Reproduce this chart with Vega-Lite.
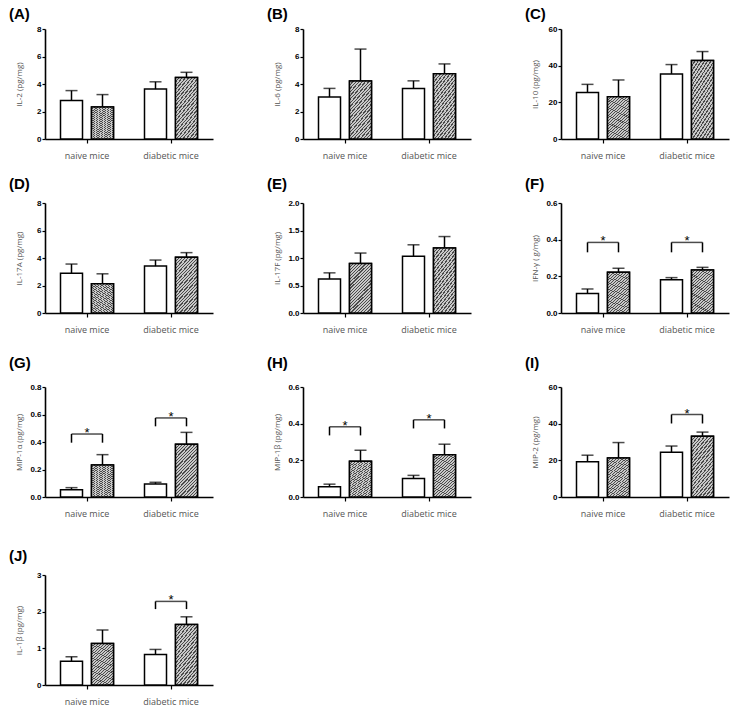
{
"$schema": "https://vega.github.io/schema/vega-lite/v6.json",
"padding": {"left": 9, "top": 7, "right": 5, "bottom": 2},
"background": "white",
"datasets": {
 "bars": [
  {"panel":"A","group":"naive mice","treatment":"control","mean":2.80,"hi":3.52},
  {"panel":"A","group":"naive mice","treatment":"treated","mean":2.33,"hi":3.23},
  {"panel":"A","group":"diabetic mice","treatment":"control","mean":3.63,"hi":4.16},
  {"panel":"A","group":"diabetic mice","treatment":"treated","mean":4.47,"hi":4.85},
  {"panel":"B","group":"naive mice","treatment":"control","mean":3.05,"hi":3.68},
  {"panel":"B","group":"naive mice","treatment":"treated","mean":4.21,"hi":6.54},
  {"panel":"B","group":"diabetic mice","treatment":"control","mean":3.68,"hi":4.23},
  {"panel":"B","group":"diabetic mice","treatment":"treated","mean":4.74,"hi":5.46},
  {"panel":"C","group":"naive mice","treatment":"control","mean":25.4,"hi":29.8},
  {"panel":"C","group":"naive mice","treatment":"treated","mean":23.0,"hi":32.2},
  {"panel":"C","group":"diabetic mice","treatment":"control","mean":35.5,"hi":40.6},
  {"panel":"C","group":"diabetic mice","treatment":"treated","mean":42.8,"hi":47.7},
  {"panel":"D","group":"naive mice","treatment":"control","mean":2.90,"hi":3.56},
  {"panel":"D","group":"naive mice","treatment":"treated","mean":2.12,"hi":2.85},
  {"panel":"D","group":"diabetic mice","treatment":"control","mean":3.41,"hi":3.85},
  {"panel":"D","group":"diabetic mice","treatment":"treated","mean":4.05,"hi":4.39},
  {"panel":"E","group":"naive mice","treatment":"control","mean":0.62,"hi":0.73},
  {"panel":"E","group":"naive mice","treatment":"treated","mean":0.90,"hi":1.09},
  {"panel":"E","group":"diabetic mice","treatment":"control","mean":1.03,"hi":1.24},
  {"panel":"E","group":"diabetic mice","treatment":"treated","mean":1.18,"hi":1.39},
  {"panel":"F","group":"naive mice","treatment":"control","mean":0.107,"hi":0.131},
  {"panel":"F","group":"naive mice","treatment":"treated","mean":0.222,"hi":0.244},
  {"panel":"F","group":"diabetic mice","treatment":"control","mean":0.182,"hi":0.193},
  {"panel":"F","group":"diabetic mice","treatment":"treated","mean":0.235,"hi":0.249},
  {"panel":"G","group":"naive mice","treatment":"control","mean":0.053,"hi":0.068},
  {"panel":"G","group":"naive mice","treatment":"treated","mean":0.233,"hi":0.308},
  {"panel":"G","group":"diabetic mice","treatment":"control","mean":0.095,"hi":0.107},
  {"panel":"G","group":"diabetic mice","treatment":"treated","mean":0.383,"hi":0.470},
  {"panel":"H","group":"naive mice","treatment":"control","mean":0.056,"hi":0.070},
  {"panel":"H","group":"naive mice","treatment":"treated","mean":0.195,"hi":0.255},
  {"panel":"H","group":"diabetic mice","treatment":"control","mean":0.101,"hi":0.118},
  {"panel":"H","group":"diabetic mice","treatment":"treated","mean":0.231,"hi":0.288},
  {"panel":"I","group":"naive mice","treatment":"control","mean":19.2,"hi":22.8},
  {"panel":"I","group":"naive mice","treatment":"treated","mean":21.3,"hi":29.7},
  {"panel":"I","group":"diabetic mice","treatment":"control","mean":24.4,"hi":27.8},
  {"panel":"I","group":"diabetic mice","treatment":"treated","mean":33.1,"hi":35.4},
  {"panel":"J","group":"naive mice","treatment":"control","mean":0.65,"hi":0.77},
  {"panel":"J","group":"naive mice","treatment":"treated","mean":1.13,"hi":1.50},
  {"panel":"J","group":"diabetic mice","treatment":"control","mean":0.83,"hi":0.97},
  {"panel":"J","group":"diabetic mice","treatment":"treated","mean":1.65,"hi":1.86}
 ],
 "sig": [
  {"panel":"F","group":"naive mice","level":0.385,"low":0.331},
  {"panel":"F","group":"diabetic mice","level":0.385,"low":0.331},
  {"panel":"G","group":"naive mice","level":0.458,"low":0.395},
  {"panel":"G","group":"diabetic mice","level":0.575,"low":0.514},
  {"panel":"H","group":"naive mice","level":0.383,"low":0.336},
  {"panel":"H","group":"diabetic mice","level":0.421,"low":0.374},
  {"panel":"I","group":"diabetic mice","level":45.0,"low":40.1},
  {"panel":"J","group":"diabetic mice","level":2.28,"low":2.07}
 ]
},
"columns": 3,
"spacing": {"column": 54, "row": 17},
"concat": [
 {"title": {"text": "(A)", "offset": 3}, "width": 168, "height": 110,
  "encoding": {"x": {"field":"group","type":"nominal","sort":["naive mice","diabetic mice"],"title":null,"scale":{"paddingInner":0,"paddingOuter":0},"axis":{"minExtent":17,"maxExtent":17}}},
  "layer": [
   {"data":{"name":"bars"},"transform":[{"filter":"datum.panel=='A'"}],
    "encoding":{"xOffset":{"field":"treatment","type":"nominal","sort":["control","treated"],"scale":{"paddingInner":0.29,"paddingOuter":0.5}},"y":{"field":"mean","type":"quantitative","title":"IL-2 (pg/mg)","scale":{"domain":[0,8]},"axis":{"values":[0,2,4,6,8]}}},
    "layer":[
     {"mark":{"type":"bar","fill":"white","stroke":"black","strokeWidth":1.5}},
     {"transform":[{"filter":"datum.treatment=='treated'"}],"mark":{"type":"bar","stroke":"black","strokeWidth":1.5}},
     {"mark":{"type":"rule","color":"black","strokeWidth":1.5},"encoding":{"y2":{"field":"hi"}}},
     {"mark":{"type":"tick","orient":"horizontal","size":12,"thickness":1.5,"color":"black"},"encoding":{"y":{"field":"hi","type":"quantitative","title":"IL-2 (pg/mg)","axis":{"values":[0,2,4,6,8]}}}}
    ]}
  ]},
 {"title": {"text": "(B)", "offset": 3}, "width": 168, "height": 110,
  "encoding": {"x": {"field":"group","type":"nominal","sort":["naive mice","diabetic mice"],"title":null,"scale":{"paddingInner":0,"paddingOuter":0},"axis":{"minExtent":17,"maxExtent":17}}},
  "layer": [
   {"data":{"name":"bars"},"transform":[{"filter":"datum.panel=='B'"}],
    "encoding":{"xOffset":{"field":"treatment","type":"nominal","sort":["control","treated"],"scale":{"paddingInner":0.29,"paddingOuter":0.5}},"y":{"field":"mean","type":"quantitative","title":"IL-6 (pg/mg)","scale":{"domain":[0,8]},"axis":{"values":[0,2,4,6,8]}}},
    "layer":[
     {"mark":{"type":"bar","fill":"white","stroke":"black","strokeWidth":1.5}},
     {"transform":[{"filter":"datum.treatment=='treated'"}],"mark":{"type":"bar","stroke":"black","strokeWidth":1.5}},
     {"mark":{"type":"rule","color":"black","strokeWidth":1.5},"encoding":{"y2":{"field":"hi"}}},
     {"mark":{"type":"tick","orient":"horizontal","size":12,"thickness":1.5,"color":"black"},"encoding":{"y":{"field":"hi","type":"quantitative","title":"IL-6 (pg/mg)","axis":{"values":[0,2,4,6,8]}}}}
    ]}
  ]},
 {"title": {"text": "(C)", "offset": 3}, "width": 168, "height": 110,
  "encoding": {"x": {"field":"group","type":"nominal","sort":["naive mice","diabetic mice"],"title":null,"scale":{"paddingInner":0,"paddingOuter":0},"axis":{"minExtent":17,"maxExtent":17}}},
  "layer": [
   {"data":{"name":"bars"},"transform":[{"filter":"datum.panel=='C'"}],
    "encoding":{"xOffset":{"field":"treatment","type":"nominal","sort":["control","treated"],"scale":{"paddingInner":0.29,"paddingOuter":0.5}},"y":{"field":"mean","type":"quantitative","title":"IL-10 (pg/mg)","scale":{"domain":[0,60]},"axis":{"values":[0,20,40,60]}}},
    "layer":[
     {"mark":{"type":"bar","fill":"white","stroke":"black","strokeWidth":1.5}},
     {"transform":[{"filter":"datum.treatment=='treated'"}],"mark":{"type":"bar","stroke":"black","strokeWidth":1.5}},
     {"mark":{"type":"rule","color":"black","strokeWidth":1.5},"encoding":{"y2":{"field":"hi"}}},
     {"mark":{"type":"tick","orient":"horizontal","size":12,"thickness":1.5,"color":"black"},"encoding":{"y":{"field":"hi","type":"quantitative","title":"IL-10 (pg/mg)","axis":{"values":[0,20,40,60]}}}}
    ]}
  ]},
 {"title": {"text": "(D)", "offset": 7}, "width": 168, "height": 110,
  "encoding": {"x": {"field":"group","type":"nominal","sort":["naive mice","diabetic mice"],"title":null,"scale":{"paddingInner":0,"paddingOuter":0},"axis":{"minExtent":26,"maxExtent":26}}},
  "layer": [
   {"data":{"name":"bars"},"transform":[{"filter":"datum.panel=='D'"}],
    "encoding":{"xOffset":{"field":"treatment","type":"nominal","sort":["control","treated"],"scale":{"paddingInner":0.29,"paddingOuter":0.5}},"y":{"field":"mean","type":"quantitative","title":"IL-17A (pg/mg)","scale":{"domain":[0,8]},"axis":{"values":[0,2,4,6,8]}}},
    "layer":[
     {"mark":{"type":"bar","fill":"white","stroke":"black","strokeWidth":1.5}},
     {"transform":[{"filter":"datum.treatment=='treated'"}],"mark":{"type":"bar","stroke":"black","strokeWidth":1.5}},
     {"mark":{"type":"rule","color":"black","strokeWidth":1.5},"encoding":{"y2":{"field":"hi"}}},
     {"mark":{"type":"tick","orient":"horizontal","size":12,"thickness":1.5,"color":"black"},"encoding":{"y":{"field":"hi","type":"quantitative","title":"IL-17A (pg/mg)","axis":{"values":[0,2,4,6,8]}}}}
    ]}
  ]},
 {"title": {"text": "(E)", "offset": 7}, "width": 168, "height": 110,
  "encoding": {"x": {"field":"group","type":"nominal","sort":["naive mice","diabetic mice"],"title":null,"scale":{"paddingInner":0,"paddingOuter":0},"axis":{"minExtent":26,"maxExtent":26}}},
  "layer": [
   {"data":{"name":"bars"},"transform":[{"filter":"datum.panel=='E'"}],
    "encoding":{"xOffset":{"field":"treatment","type":"nominal","sort":["control","treated"],"scale":{"paddingInner":0.29,"paddingOuter":0.5}},"y":{"field":"mean","type":"quantitative","title":"IL-17F (pg/mg)","scale":{"domain":[0,2]},"axis":{"values":[0,0.5,1,1.5,2],"format":".1f"}}},
    "layer":[
     {"mark":{"type":"bar","fill":"white","stroke":"black","strokeWidth":1.5}},
     {"transform":[{"filter":"datum.treatment=='treated'"}],"mark":{"type":"bar","stroke":"black","strokeWidth":1.5}},
     {"mark":{"type":"rule","color":"black","strokeWidth":1.5},"encoding":{"y2":{"field":"hi"}}},
     {"mark":{"type":"tick","orient":"horizontal","size":12,"thickness":1.5,"color":"black"},"encoding":{"y":{"field":"hi","type":"quantitative","title":"IL-17F (pg/mg)","axis":{"values":[0,0.5,1,1.5,2],"format":".1f"}}}}
    ]}
  ]},
 {"title": {"text": "(F)", "offset": 7}, "width": 168, "height": 110,
  "encoding": {"x": {"field":"group","type":"nominal","sort":["naive mice","diabetic mice"],"title":null,"scale":{"paddingInner":0,"paddingOuter":0},"axis":{"minExtent":26,"maxExtent":26}}},
  "layer": [
   {"data":{"name":"bars"},"transform":[{"filter":"datum.panel=='F'"}],
    "encoding":{"xOffset":{"field":"treatment","type":"nominal","sort":["control","treated"],"scale":{"paddingInner":0.29,"paddingOuter":0.5}},"y":{"field":"mean","type":"quantitative","title":"IFN-γ  (  g/mg)","scale":{"domain":[0,0.6]},"axis":{"values":[0,0.2,0.4,0.6],"format":".1f"}}},
    "layer":[
     {"mark":{"type":"bar","fill":"white","stroke":"black","strokeWidth":1.5}},
     {"transform":[{"filter":"datum.treatment=='treated'"}],"mark":{"type":"bar","stroke":"black","strokeWidth":1.5}},
     {"mark":{"type":"rule","color":"black","strokeWidth":1.5},"encoding":{"y2":{"field":"hi"}}},
     {"mark":{"type":"tick","orient":"horizontal","size":12,"thickness":1.5,"color":"black"},"encoding":{"y":{"field":"hi","type":"quantitative","title":"IFN-γ  (  g/mg)","axis":{"values":[0,0.2,0.4,0.6],"format":".1f"}}}}
    ]},
   {"data":{"name":"sig"},"transform":[{"filter":"datum.panel=='F'"}],
    "encoding":{"y":{"field":"level","type":"quantitative","title":"IFN-γ  (  g/mg)","axis":{"values":[0,0.2,0.4,0.6],"format":".1f"}}},
    "layer":[
     {"mark":{"type":"tick","orient":"horizontal","size":31,"thickness":1.5,"color":"black"}},
     {"mark":{"type":"rule","color":"black","strokeWidth":1.5},"encoding":{"xOffset":{"datum":"control"},"y2":{"field":"low"}}},
     {"mark":{"type":"rule","color":"black","strokeWidth":1.5},"encoding":{"xOffset":{"datum":"treated"},"y2":{"field":"low"}}},
     {"mark":{"type":"text","text":"*","dy":3,"baseline":"alphabetic","fontSize":13,"color":"black"}}
    ]}
  ]},
 {"title": {"text": "(G)", "offset": 12}, "width": 168, "height": 110,
  "encoding": {"x": {"field":"group","type":"nominal","sort":["naive mice","diabetic mice"],"title":null,"scale":{"paddingInner":0,"paddingOuter":0},"axis":{"minExtent":35,"maxExtent":35}}},
  "layer": [
   {"data":{"name":"bars"},"transform":[{"filter":"datum.panel=='G'"}],
    "encoding":{"xOffset":{"field":"treatment","type":"nominal","sort":["control","treated"],"scale":{"paddingInner":0.29,"paddingOuter":0.5}},"y":{"field":"mean","type":"quantitative","title":"MIP-1α  (pg/mg)","scale":{"domain":[0,0.8]},"axis":{"values":[0,0.2,0.4,0.6,0.8],"format":".1f"}}},
    "layer":[
     {"mark":{"type":"bar","fill":"white","stroke":"black","strokeWidth":1.5}},
     {"transform":[{"filter":"datum.treatment=='treated'"}],"mark":{"type":"bar","stroke":"black","strokeWidth":1.5}},
     {"mark":{"type":"rule","color":"black","strokeWidth":1.5},"encoding":{"y2":{"field":"hi"}}},
     {"mark":{"type":"tick","orient":"horizontal","size":12,"thickness":1.5,"color":"black"},"encoding":{"y":{"field":"hi","type":"quantitative","title":"MIP-1α  (pg/mg)","axis":{"values":[0,0.2,0.4,0.6,0.8],"format":".1f"}}}}
    ]},
   {"data":{"name":"sig"},"transform":[{"filter":"datum.panel=='G'"}],
    "encoding":{"y":{"field":"level","type":"quantitative","title":"MIP-1α  (pg/mg)","axis":{"values":[0,0.2,0.4,0.6,0.8],"format":".1f"}}},
    "layer":[
     {"mark":{"type":"tick","orient":"horizontal","size":31,"thickness":1.5,"color":"black"}},
     {"mark":{"type":"rule","color":"black","strokeWidth":1.5},"encoding":{"xOffset":{"datum":"control"},"y2":{"field":"low"}}},
     {"mark":{"type":"rule","color":"black","strokeWidth":1.5},"encoding":{"xOffset":{"datum":"treated"},"y2":{"field":"low"}}},
     {"mark":{"type":"text","text":"*","dy":3,"baseline":"alphabetic","fontSize":13,"color":"black"}}
    ]}
  ]},
 {"title": {"text": "(H)", "offset": 12}, "width": 168, "height": 110,
  "encoding": {"x": {"field":"group","type":"nominal","sort":["naive mice","diabetic mice"],"title":null,"scale":{"paddingInner":0,"paddingOuter":0},"axis":{"minExtent":35,"maxExtent":35}}},
  "layer": [
   {"data":{"name":"bars"},"transform":[{"filter":"datum.panel=='H'"}],
    "encoding":{"xOffset":{"field":"treatment","type":"nominal","sort":["control","treated"],"scale":{"paddingInner":0.29,"paddingOuter":0.5}},"y":{"field":"mean","type":"quantitative","title":"MIP-1β (pg/mg)","scale":{"domain":[0,0.6]},"axis":{"values":[0,0.2,0.4,0.6],"format":".1f"}}},
    "layer":[
     {"mark":{"type":"bar","fill":"white","stroke":"black","strokeWidth":1.5}},
     {"transform":[{"filter":"datum.treatment=='treated'"}],"mark":{"type":"bar","stroke":"black","strokeWidth":1.5}},
     {"mark":{"type":"rule","color":"black","strokeWidth":1.5},"encoding":{"y2":{"field":"hi"}}},
     {"mark":{"type":"tick","orient":"horizontal","size":12,"thickness":1.5,"color":"black"},"encoding":{"y":{"field":"hi","type":"quantitative","title":"MIP-1β (pg/mg)","axis":{"values":[0,0.2,0.4,0.6],"format":".1f"}}}}
    ]},
   {"data":{"name":"sig"},"transform":[{"filter":"datum.panel=='H'"}],
    "encoding":{"y":{"field":"level","type":"quantitative","title":"MIP-1β (pg/mg)","axis":{"values":[0,0.2,0.4,0.6],"format":".1f"}}},
    "layer":[
     {"mark":{"type":"tick","orient":"horizontal","size":31,"thickness":1.5,"color":"black"}},
     {"mark":{"type":"rule","color":"black","strokeWidth":1.5},"encoding":{"xOffset":{"datum":"control"},"y2":{"field":"low"}}},
     {"mark":{"type":"rule","color":"black","strokeWidth":1.5},"encoding":{"xOffset":{"datum":"treated"},"y2":{"field":"low"}}},
     {"mark":{"type":"text","text":"*","dy":3,"baseline":"alphabetic","fontSize":13,"color":"black"}}
    ]}
  ]},
 {"title": {"text": "(I)", "offset": 12}, "width": 168, "height": 110,
  "encoding": {"x": {"field":"group","type":"nominal","sort":["naive mice","diabetic mice"],"title":null,"scale":{"paddingInner":0,"paddingOuter":0},"axis":{"minExtent":35,"maxExtent":35}}},
  "layer": [
   {"data":{"name":"bars"},"transform":[{"filter":"datum.panel=='I'"}],
    "encoding":{"xOffset":{"field":"treatment","type":"nominal","sort":["control","treated"],"scale":{"paddingInner":0.29,"paddingOuter":0.5}},"y":{"field":"mean","type":"quantitative","title":"MIP-2 (pg/mg)","scale":{"domain":[0,60]},"axis":{"values":[0,20,40,60]}}},
    "layer":[
     {"mark":{"type":"bar","fill":"white","stroke":"black","strokeWidth":1.5}},
     {"transform":[{"filter":"datum.treatment=='treated'"}],"mark":{"type":"bar","stroke":"black","strokeWidth":1.5}},
     {"mark":{"type":"rule","color":"black","strokeWidth":1.5},"encoding":{"y2":{"field":"hi"}}},
     {"mark":{"type":"tick","orient":"horizontal","size":12,"thickness":1.5,"color":"black"},"encoding":{"y":{"field":"hi","type":"quantitative","title":"MIP-2 (pg/mg)","axis":{"values":[0,20,40,60]}}}}
    ]},
   {"data":{"name":"sig"},"transform":[{"filter":"datum.panel=='I'"}],
    "encoding":{"y":{"field":"level","type":"quantitative","title":"MIP-2 (pg/mg)","axis":{"values":[0,20,40,60]}}},
    "layer":[
     {"mark":{"type":"tick","orient":"horizontal","size":31,"thickness":1.5,"color":"black"}},
     {"mark":{"type":"rule","color":"black","strokeWidth":1.5},"encoding":{"xOffset":{"datum":"control"},"y2":{"field":"low"}}},
     {"mark":{"type":"rule","color":"black","strokeWidth":1.5},"encoding":{"xOffset":{"datum":"treated"},"y2":{"field":"low"}}},
     {"mark":{"type":"text","text":"*","dy":3,"baseline":"alphabetic","fontSize":13,"color":"black"}}
    ]}
  ]},
 {"title": {"text": "(J)", "offset": 7}, "width": 168, "height": 110,
  "encoding": {"x": {"field":"group","type":"nominal","sort":["naive mice","diabetic mice"],"title":null,"scale":{"paddingInner":0,"paddingOuter":0},"axis":{"minExtent":19,"maxExtent":19}}},
  "layer": [
   {"data":{"name":"bars"},"transform":[{"filter":"datum.panel=='J'"}],
    "encoding":{"xOffset":{"field":"treatment","type":"nominal","sort":["control","treated"],"scale":{"paddingInner":0.29,"paddingOuter":0.5}},"y":{"field":"mean","type":"quantitative","title":"IL-1β  (pg/mg)","scale":{"domain":[0,3]},"axis":{"values":[0,1,2,3]}}},
    "layer":[
     {"mark":{"type":"bar","fill":"white","stroke":"black","strokeWidth":1.5}},
     {"transform":[{"filter":"datum.treatment=='treated'"}],"mark":{"type":"bar","stroke":"black","strokeWidth":1.5}},
     {"mark":{"type":"rule","color":"black","strokeWidth":1.5},"encoding":{"y2":{"field":"hi"}}},
     {"mark":{"type":"tick","orient":"horizontal","size":12,"thickness":1.5,"color":"black"},"encoding":{"y":{"field":"hi","type":"quantitative","title":"IL-1β  (pg/mg)","axis":{"values":[0,1,2,3]}}}}
    ]},
   {"data":{"name":"sig"},"transform":[{"filter":"datum.panel=='J'"}],
    "encoding":{"y":{"field":"level","type":"quantitative","title":"IL-1β  (pg/mg)","axis":{"values":[0,1,2,3]}}},
    "layer":[
     {"mark":{"type":"tick","orient":"horizontal","size":31,"thickness":1.5,"color":"black"}},
     {"mark":{"type":"rule","color":"black","strokeWidth":1.5},"encoding":{"xOffset":{"datum":"control"},"y2":{"field":"low"}}},
     {"mark":{"type":"rule","color":"black","strokeWidth":1.5},"encoding":{"xOffset":{"datum":"treated"},"y2":{"field":"low"}}},
     {"mark":{"type":"text","text":"*","dy":3,"baseline":"alphabetic","fontSize":13,"color":"black"}}
    ]}
  ]}
],
"config": {
 "view": {"stroke": null},
 "font": "Liberation Sans",
 "bar": {"fill": {"gradient": "linear", "x1": 0, "y1": 0, "x2": 1, "y2": 2.3, "stops": [
   {"offset": 0, "color": "#4a4a4a"}, {"offset": 0.009, "color": "#4a4a4a"}, {"offset": 0.009, "color": "#c8c8c8"}, {"offset": 0.023, "color": "#c8c8c8"},
   {"offset": 0.023, "color": "#4a4a4a"}, {"offset": 0.032, "color": "#4a4a4a"}, {"offset": 0.032, "color": "#c8c8c8"}, {"offset": 0.046, "color": "#c8c8c8"},
   {"offset": 0.046, "color": "#4a4a4a"}, {"offset": 0.055, "color": "#4a4a4a"}, {"offset": 0.055, "color": "#c8c8c8"}, {"offset": 0.069, "color": "#c8c8c8"},
   {"offset": 0.069, "color": "#4a4a4a"}, {"offset": 0.078, "color": "#4a4a4a"}, {"offset": 0.078, "color": "#c8c8c8"}, {"offset": 0.092, "color": "#c8c8c8"},
   {"offset": 0.092, "color": "#4a4a4a"}, {"offset": 0.101, "color": "#4a4a4a"}, {"offset": 0.101, "color": "#c8c8c8"}, {"offset": 0.115, "color": "#c8c8c8"},
   {"offset": 0.115, "color": "#4a4a4a"}, {"offset": 0.124, "color": "#4a4a4a"}, {"offset": 0.124, "color": "#c8c8c8"}, {"offset": 0.138, "color": "#c8c8c8"},
   {"offset": 0.138, "color": "#4a4a4a"}, {"offset": 0.147, "color": "#4a4a4a"}, {"offset": 0.147, "color": "#c8c8c8"}, {"offset": 0.161, "color": "#c8c8c8"},
   {"offset": 0.161, "color": "#4a4a4a"}, {"offset": 0.170, "color": "#4a4a4a"}, {"offset": 0.170, "color": "#c8c8c8"}, {"offset": 0.184, "color": "#c8c8c8"},
   {"offset": 0.184, "color": "#4a4a4a"}, {"offset": 0.193, "color": "#4a4a4a"}, {"offset": 0.193, "color": "#c8c8c8"}, {"offset": 0.207, "color": "#c8c8c8"},
   {"offset": 0.207, "color": "#4a4a4a"}, {"offset": 0.216, "color": "#4a4a4a"}, {"offset": 0.216, "color": "#c8c8c8"}, {"offset": 0.230, "color": "#c8c8c8"},
   {"offset": 0.230, "color": "#4a4a4a"}, {"offset": 0.239, "color": "#4a4a4a"}, {"offset": 0.239, "color": "#c8c8c8"}, {"offset": 0.253, "color": "#c8c8c8"},
   {"offset": 0.253, "color": "#4a4a4a"}, {"offset": 0.262, "color": "#4a4a4a"}, {"offset": 0.262, "color": "#c8c8c8"}, {"offset": 0.276, "color": "#c8c8c8"},
   {"offset": 0.276, "color": "#4a4a4a"}, {"offset": 0.285, "color": "#4a4a4a"}, {"offset": 0.285, "color": "#c8c8c8"}, {"offset": 0.299, "color": "#c8c8c8"},
   {"offset": 0.299, "color": "#4a4a4a"}, {"offset": 0.308, "color": "#4a4a4a"}, {"offset": 0.308, "color": "#c8c8c8"}, {"offset": 0.322, "color": "#c8c8c8"},
   {"offset": 0.322, "color": "#4a4a4a"}, {"offset": 0.331, "color": "#4a4a4a"}, {"offset": 0.331, "color": "#c8c8c8"}, {"offset": 0.345, "color": "#c8c8c8"},
   {"offset": 0.345, "color": "#4a4a4a"}, {"offset": 0.354, "color": "#4a4a4a"}, {"offset": 0.354, "color": "#c8c8c8"}, {"offset": 0.368, "color": "#c8c8c8"},
   {"offset": 0.368, "color": "#4a4a4a"}, {"offset": 0.377, "color": "#4a4a4a"}, {"offset": 0.377, "color": "#c8c8c8"}, {"offset": 0.391, "color": "#c8c8c8"},
   {"offset": 0.391, "color": "#4a4a4a"}, {"offset": 0.400, "color": "#4a4a4a"}, {"offset": 0.400, "color": "#c8c8c8"}, {"offset": 0.414, "color": "#c8c8c8"},
   {"offset": 0.414, "color": "#4a4a4a"}, {"offset": 0.423, "color": "#4a4a4a"}, {"offset": 0.423, "color": "#c8c8c8"}, {"offset": 0.437, "color": "#c8c8c8"},
   {"offset": 0.437, "color": "#4a4a4a"}, {"offset": 0.446, "color": "#4a4a4a"}, {"offset": 0.446, "color": "#c8c8c8"}, {"offset": 0.460, "color": "#c8c8c8"},
   {"offset": 0.460, "color": "#4a4a4a"}, {"offset": 0.469, "color": "#4a4a4a"}, {"offset": 0.469, "color": "#c8c8c8"}, {"offset": 0.483, "color": "#c8c8c8"},
   {"offset": 0.483, "color": "#4a4a4a"}, {"offset": 0.492, "color": "#4a4a4a"}, {"offset": 0.492, "color": "#c8c8c8"}, {"offset": 0.506, "color": "#c8c8c8"},
   {"offset": 0.506, "color": "#4a4a4a"}, {"offset": 0.515, "color": "#4a4a4a"}, {"offset": 0.515, "color": "#c8c8c8"}, {"offset": 0.529, "color": "#c8c8c8"},
   {"offset": 1, "color": "#c8c8c8"}
  ]}},
 "axis": {"domainColor": "black", "domainWidth": 1.6, "tickColor": "black", "tickWidth": 1.2, "grid": false},
 "axisX": {"labelAngle": 0, "labelFont": "Open Sans", "labelFontSize": 9, "labelColor": "#555", "tickSize": 4, "labelPadding": 8},
 "axisY": {"labelFont": "Liberation Sans", "labelFontWeight": "bold", "labelFontSize": 8, "labelColor": "black", "labelOverlap": false, "tickSize": 3, "labelPadding": 1, "titleFont": "Open Sans", "titleFontSize": 8, "titleFontWeight": "normal", "titleColor": "#555", "titlePadding": 4, "minExtent": 18, "maxExtent": 18},
 "title": {"fontSize": 15, "fontWeight": "bold", "anchor": "start", "font": "Liberation Sans", "color": "black", "frame": "bounds", "dx": -6}
}
}
